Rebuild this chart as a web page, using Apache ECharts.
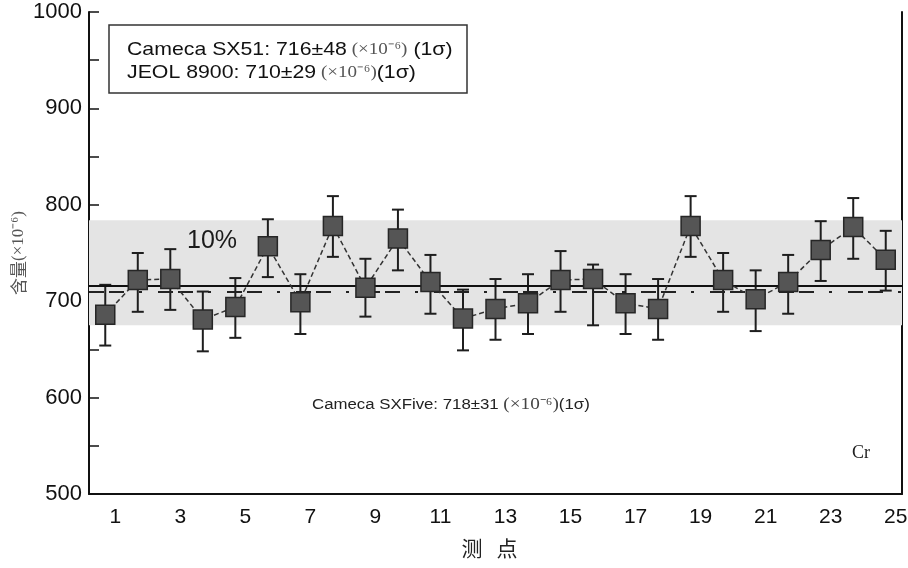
<!DOCTYPE html>
<html>
<head>
<meta charset="utf-8">
<script src="https://cdn.jsdelivr.net/npm/echarts@6/dist/echarts.min.js"></script>
<style>html,body{margin:0;padding:0;background:#fff}#c{width:908px;height:568px}</style>
</head>
<body>
<div id="c"></div>
<script>
// Data
const points = ['1','2','3','4','5','6','7','8','9','10','11','12','13','14','15','16','17','18','19','20','21','22','23','24','25'];
const values = [686, 722, 723, 681, 694, 757, 699, 778, 714, 765, 720, 682, 692, 698, 722, 723, 698, 692, 778, 722, 702, 720, 753, 777, 743];
const highs  = [717, 750, 754, 710, 724, 785, 728, 809, 744, 795, 748, 712, 723, 728, 752, 738, 728, 723, 809, 750, 732, 748, 783, 807, 773];
const lows   = [654, 689, 691, 648, 662, 725, 666, 746, 684, 732, 687, 649, 660, 666, 689, 675, 666, 660, 746, 689, 669, 687, 721, 744, 711];
const sx51Mean = 716;
const jeolMean = 710;
const band = [675, 784];
const yTicks = [500, 600, 700, 800, 900, 1000];

const chart = echarts.init(document.getElementById('c'), null, {renderer: 'canvas'});
const errData = points.map((p, i) => [i, lows[i], highs[i]]);
const sans = 'Liberation Sans, Arial, sans-serif';
const serif = 'Liberation Serif, Times New Roman, serif';

const option = {
  animation: false,
  backgroundColor: '#fff',
  grid: {left: 89, right: 6, top: 12, bottom: 74, containLabel: false, outerBoundsMode: 'none'},
  xAxis: {
    type: 'category',
    data: points,
    boundaryGap: true,
    name: '测   点',
    nameLocation: 'middle',
    nameGap: 44,
    nameTextStyle: {fontFamily: 'Noto Sans CJK SC', fontSize: 21, color: '#222', padding: [0, 12, 0, 0]},
    axisLine: {lineStyle: {color: '#111', width: 2}},
    axisTick: {inside: true, length: 7, interval: 0, alignWithLabel: false, lineStyle: {color: '#111', width: 1.5}},
    axisLabel: {interval: 1, margin: 13, fontFamily: sans, fontSize: 21, color: '#111', padding: [0, 0, 0, 20]},
    splitLine: {show: false}
  },
  yAxis: [{
    type: 'value',
    min: 500, max: 1000, interval: 50,
    name: '{c|含量}{s|(×10⁻⁶)}',
    nameLocation: 'middle',
    nameRotate: 90,
    nameGap: 62,
    nameMoveOverlap: false,
    nameTextStyle: {
      rich: {
        c: {fontFamily: 'Noto Sans CJK SC', fontSize: 17, color: '#555'},
        s: {fontFamily: serif, fontSize: 17, color: '#555'}
      }
    },
    axisLine: {show: true, lineStyle: {color: '#111', width: 2}},
    axisTick: {show: true, inside: true, length: 10, lineStyle: {color: '#111', width: 1.5}},
    axisLabel: {
      margin: 7, fontFamily: sans, fontSize: 22, color: '#111',
      formatter: v => (yTicks.indexOf(v) >= 0 ? String(v) : '')
    },
    splitLine: {show: false}
  }, {
    type: 'value', position: 'right', min: 500, max: 1000,
    axisLine: {show: true, lineStyle: {color: '#111', width: 2}},
    axisTick: {show: false}, axisLabel: {show: false}, splitLine: {show: false}
  }],
  series: [
    {
      type: 'line',
      data: [],
      markArea: {
        silent: true,
        itemStyle: {color: '#e4e4e4'},
        data: [[{yAxis: band[0]}, {yAxis: band[1]}]]
      },
      markLine: {
        silent: true,
        symbol: 'none',
        label: {show: false},
        data: [
          {yAxis: sx51Mean, lineStyle: {color: '#111', width: 1.8, type: 'solid'}},
          {yAxis: jeolMean, lineStyle: {color: '#222', width: 2, type: [15, 5, 15, 15, 3, 16]}}
        ]
      }
    },
    {
      type: 'custom',
      data: errData,
      encode: {x: 0, y: [1, 2]},
      z: 3,
      renderItem: function (params, api) {
        const i = api.value(0);
        const lo = api.coord([i, api.value(1)]);
        const hi = api.coord([i, api.value(2)]);
        const w = 6;
        const st = {stroke: '#1e1e1e', lineWidth: 2};
        return {
          type: 'group',
          children: [
            {type: 'line', shape: {x1: lo[0], y1: lo[1], x2: hi[0], y2: hi[1]}, style: st},
            {type: 'line', shape: {x1: lo[0] - w, y1: lo[1], x2: lo[0] + w, y2: lo[1]}, style: st},
            {type: 'line', shape: {x1: hi[0] - w, y1: hi[1], x2: hi[0] + w, y2: hi[1]}, style: st}
          ]
        };
      }
    },
    {
      type: 'line',
      data: values,
      z: 5,
      symbol: 'rect',
      symbolSize: 19,
      itemStyle: {color: '#555555', borderColor: '#262626', borderWidth: 1.5, opacity: 1},
      lineStyle: {color: '#333', width: 1.5, type: [5, 3]}
    }
  ],
  graphic: [
    {type: 'rect', shape: {x: 109, y: 25, width: 358, height: 68}, style: {fill: '#fff', stroke: '#333', lineWidth: 1.5}, z: 10},
    {type: 'text', x: 127, y: 50, scaleX: 1.12, z: 11, style: {
      text: '{a|Cameca SX51: 716±48}{b| (×10⁻⁶)}{a| (1σ)}',
      verticalAlign: 'middle',
      rich: {a: {fontFamily: sans, fontSize: 19, fill: '#111'}, b: {fontFamily: serif, fontSize: 17, fill: '#555'}}
    }},
    {type: 'text', x: 127, y: 73, scaleX: 1.12, z: 11, style: {
      text: '{a|JEOL 8900: 710±29}{b| (×10⁻⁶)}{a|(1σ)}',
      verticalAlign: 'middle',
      rich: {a: {fontFamily: sans, fontSize: 19, fill: '#111'}, b: {fontFamily: serif, fontSize: 17, fill: '#555'}}
    }},
    {type: 'text', x: 312, y: 405, scaleX: 1.2, z: 11, style: {
      text: '{a|Cameca SXFive: 718±31 }{b|(×10⁻⁶)}{a|(1σ)}',
      verticalAlign: 'middle',
      rich: {a: {fontFamily: sans, fontSize: 14, fill: '#222'}, b: {fontFamily: serif, fontSize: 16, fill: '#444'}}
    }},
    {type: 'text', x: 212, y: 241, z: 11, style: {
      text: '10%', align: 'center', verticalAlign: 'middle',
      fontFamily: sans, fontSize: 25, fill: '#1a1a1a'
    }},
    {type: 'text', x: 861, y: 453, z: 11, style: {
      text: 'Cr', align: 'center', verticalAlign: 'middle',
      fontFamily: serif, fontSize: 18, fill: '#222'
    }}
  ]
};
chart.setOption(option);
</script>
</body>
</html>
